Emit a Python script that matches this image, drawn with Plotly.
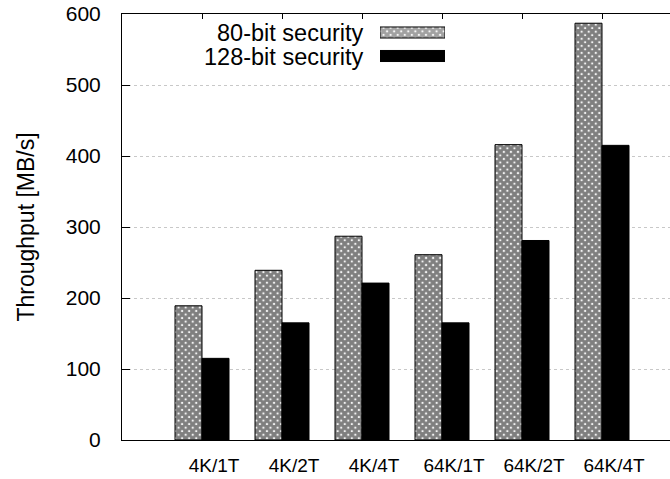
import plotly.graph_objects as go

categories = ["4K/1T", "4K/2T", "4K/4T", "64K/1T", "64K/2T", "64K/4T"]
sec80 = [189, 239, 287, 261, 416, 587]
sec128 = [115, 165, 221, 165, 281, 415]
series_names = ["80-bit security", "128-bit security"]
y_ticks = [0, 100, 200, 300, 400, 500, 600]

FONT = "Liberation Sans, Arial, Helvetica, sans-serif"
BW = 0.3375
PAT = dict(shape="x", fgcolor="black", bgcolor="white", size=5, solidity=0.85)

fig = go.Figure()
fig.add_trace(go.Bar(
    x=categories, y=sec80, name=series_names[0], width=BW, offset=-BW,
    marker=dict(color="white", line=dict(color="black", width=1), pattern=PAT),
    showlegend=False,
))
fig.add_trace(go.Bar(
    x=categories, y=sec128, name=series_names[1], width=BW, offset=0,
    marker=dict(color="black", line=dict(color="black", width=1)),
    showlegend=False,
))

# legend keys (gnuplot style: text on the left, key on the right)
fig.add_trace(go.Bar(
    y=[0, 1], x=[1, 1], orientation="h", width=0.47,
    xaxis="x2", yaxis="y2", hoverinfo="skip", showlegend=False,
    marker=dict(color=["white", "black"], line=dict(color="black", width=1),
                pattern=dict(shape=["x", ""], fgcolor="black", bgcolor="white", size=5, solidity=0.85)),
))

W, H = 670, 479
L, R, T, B = 122, 0, 14, 39
pw, ph = W - L - R, H - T - B

def px_x(px):
    return (px - L) / pw

def px_y(py):
    return (H - B - py) / ph

for name, ypx in zip(series_names, [33, 57]):
    fig.add_annotation(x=px_x(366), y=px_y(ypx), xref="paper", yref="paper",
                       text=name, showarrow=False, xanchor="right", yanchor="middle",
                       font=dict(size=23.5, color="black", family=FONT))

fig.update_layout(
    width=W, height=H,
    margin=dict(l=L, r=R, t=T, b=B, autoexpand=False),
    paper_bgcolor="white", plot_bgcolor="white",
    barmode="overlay",
    font=dict(family=FONT, color="black"),
    xaxis=dict(
        type="category", range=[-1, 5.85], automargin=False,
        showline=True, linecolor="black", linewidth=1, mirror="ticks",
        ticks="inside", ticklen=5, tickcolor="black",
        showgrid=False, zeroline=False,
        tickfont=dict(size=19, color="black", family=FONT),
        ticklabelshift=12, ticklabelstandoff=8,
    ),
    yaxis=dict(
        range=[0, 600], tickvals=y_ticks, automargin=False,
        showline=True, linecolor="black", linewidth=1,
        ticks="inside", ticklen=8, tickcolor="black",
        showgrid=True, gridcolor="#c8c8c8", griddash="dot", gridwidth=1,
        zeroline=False,
        tickfont=dict(size=21, color="black", family=FONT),
        ticklabelstandoff=16,
        title=dict(text="Throughput [MB/s]", font=dict(size=23, color="black", family=FONT), standoff=24),
    ),
    xaxis2=dict(domain=[px_x(380), px_x(445)], range=[0, 1], visible=False, fixedrange=True),
    yaxis2=dict(domain=[px_y(67.75), px_y(20.75)], range=[1.5, -0.5], visible=False, fixedrange=True),
)

fig.write_html(
    "out.html",
    config={"displayModeBar": False},
    post_script="document.body.style.margin='0';document.body.style.overflow='hidden';",
)
